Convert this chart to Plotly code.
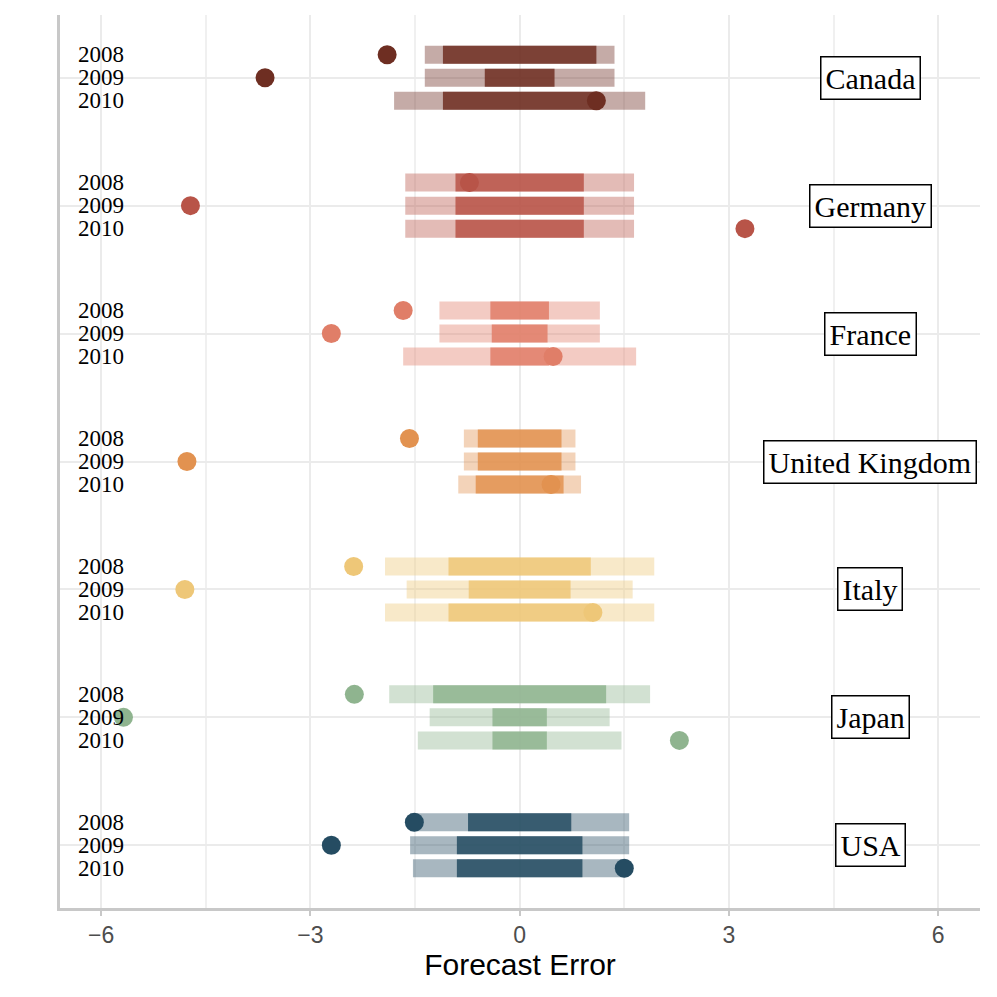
import plotly.graph_objects as go

# -----------------------------
# data
# -----------------------------
countries = ["Canada", "Germany", "France", "United Kingdom", "Italy", "Japan", "USA"]
years = ["2008", "2009", "2010"]
colors = ["#6E2E22", "#B85448", "#E07E68", "#E29250", "#EEC778", "#8FB48F", "#254C62"]

# half widths of the wide and narrow forecast intervals (centred on 0)
wide_half = [
    [1.36, 1.36, 1.80],
    [1.64, 1.64, 1.64],
    [1.15, 1.15, 1.67],
    [0.80, 0.80, 0.88],
    [1.93, 1.62, 1.93],
    [1.87, 1.29, 1.46],
    [1.57, 1.57, 1.53],
]
narrow_half = [
    [1.10, 0.50, 1.10],
    [0.92, 0.92, 0.92],
    [0.42, 0.40, 0.42],
    [0.60, 0.60, 0.63],
    [1.02, 0.73, 1.02],
    [1.24, 0.39, 0.39],
    [0.74, 0.90, 0.90],
]
actual = [
    [-1.90, -3.65, 1.10],
    [-0.72, -4.72, 3.23],
    [-1.67, -2.70, 0.48],
    [-1.58, -4.77, 0.45],
    [-2.38, -4.80, 1.05],
    [-2.37, -5.68, 2.29],
    [-1.51, -2.70, 1.50],
]

year_offset = [0.18, 0.0, -0.18]
n = len(countries)


def rgba(hexcol, a):
    h = hexcol.lstrip('#')
    r, g, b = int(h[0:2], 16), int(h[2:4], 16), int(h[4:6], 16)
    return f'rgba({r},{g},{b},{a})'


fig = go.Figure()

for i, c in enumerate(countries):
    base = n - 1 - i
    ys = [base + o for o in year_offset]
    # wide and narrow intervals as thick line segments
    xw, yw = [], []
    xn, yn = [], []
    for j in range(3):
        xw += [-wide_half[i][j], wide_half[i][j], None]
        yw += [ys[j], ys[j], None]
        xn += [-narrow_half[i][j], narrow_half[i][j], None]
        yn += [ys[j], ys[j], None]
    fig.add_trace(go.Scatter(x=xw, y=yw, mode='lines', showlegend=False, hoverinfo='skip',
                             line=dict(color=rgba(colors[i], 0.4), width=18)))
    fig.add_trace(go.Scatter(x=xn, y=yn, mode='lines', showlegend=False, hoverinfo='skip',
                             line=dict(color=rgba(colors[i], 0.85), width=18)))
    fig.add_trace(go.Scatter(x=actual[i], y=ys, mode='markers', showlegend=False, name=c,
                             marker=dict(color=colors[i], size=19, line=dict(width=0))))

    for j, yr in enumerate(years):
        fig.add_annotation(x=-6, y=ys[j], text=yr, showarrow=False, xanchor='center', yanchor='middle',
                           font=dict(family='Liberation Serif, serif', size=23, color='black'))
    fig.add_annotation(x=5.03, y=base, text=c, showarrow=False, xanchor='center', yanchor='middle',
                       font=dict(family='Liberation Serif, serif', size=30, color='black'),
                       bgcolor='white', bordercolor='black', borderwidth=1.5, borderpad=4)

# page body has an 8px margin, so the figure is a bit smaller than the window
fig.update_layout(
    width=989, height=989,
    margin=dict(l=52, r=17, t=7, b=89),
    plot_bgcolor='white', paper_bgcolor='white',
    xaxis=dict(range=[-6.59, 6.6], tickvals=[-6, -3, 0, 3, 6], ticktext=['\u22126', '\u22123', '0', '3', '6'],
               showgrid=True, gridcolor='#EBEBEB', gridwidth=2,
               minor=dict(dtick=1.5, tick0=0, showgrid=True, gridcolor='#F0F0F0', gridwidth=1.5),
               showline=True, linecolor='#C8C8C8', linewidth=2.5,
               ticks='outside', ticklen=5, tickcolor='#C8C8C8', tickwidth=2,
               tickfont=dict(family='Liberation Sans Narrow, Liberation Sans', size=23, color='#4D4D4D'),
               title=dict(text='Forecast Error', font=dict(family='Liberation Sans', size=30, color='black'),
                          standoff=6),
               zeroline=False, automargin=False),
    yaxis=dict(range=[-0.49, 6.49], tickvals=list(range(n)), showticklabels=False,
               showgrid=True, gridcolor='#EBEBEB', gridwidth=2,
               showline=True, linecolor='#C8C8C8', linewidth=2.5, zeroline=False, ticks='',
               automargin=False),
)

fig.write_html("out.html")
